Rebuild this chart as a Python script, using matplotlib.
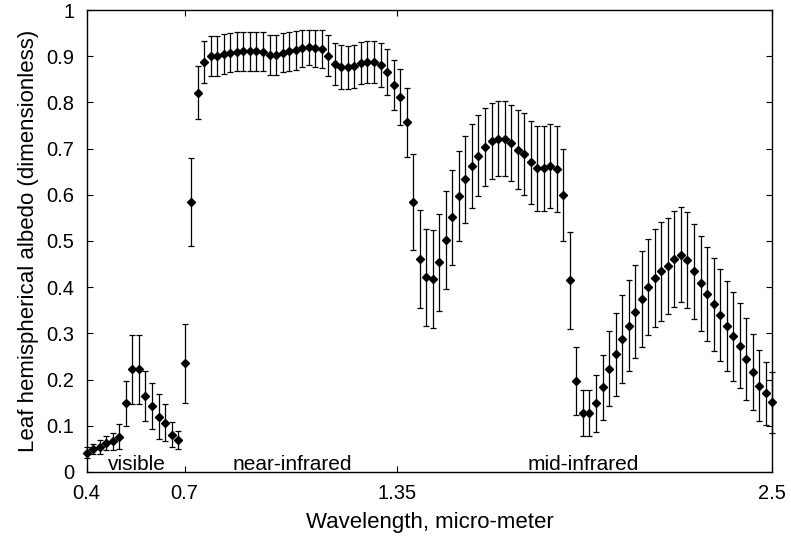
import matplotlib
matplotlib.use("Agg")
import matplotlib.pyplot as plt
import numpy as np

### Leaf hemispherical albedo vs wavelength, with error bars

wavelength = [0.40, 0.42, 0.44, 0.46, 0.48, 0.50, 0.52, 0.54, 0.56, 0.58,
              0.60, 0.62, 0.64, 0.66, 0.68, 0.70, 0.72, 0.74, 0.76, 0.78,
              0.80, 0.82, 0.84, 0.86, 0.88, 0.90, 0.92, 0.94, 0.96, 0.98,
              1.00, 1.02, 1.04, 1.06, 1.08, 1.10, 1.12, 1.14, 1.16, 1.18,
              1.20, 1.22, 1.24, 1.26, 1.28, 1.30, 1.32, 1.34, 1.36, 1.38,
              1.40, 1.42, 1.44, 1.46, 1.48, 1.50, 1.52, 1.54, 1.56, 1.58,
              1.60, 1.62, 1.64, 1.66, 1.68, 1.70, 1.72, 1.74, 1.76, 1.78,
              1.80, 1.82, 1.84, 1.86, 1.88, 1.90, 1.92, 1.94, 1.96, 1.98,
              2.00, 2.02, 2.04, 2.06, 2.08, 2.10, 2.12, 2.14, 2.16, 2.18,
              2.20, 2.22, 2.24, 2.26, 2.28, 2.30, 2.32, 2.34, 2.36, 2.38,
              2.40, 2.42, 2.44, 2.46, 2.48, 2.50]

albedo = [0.042, 0.049, 0.055, 0.062, 0.066, 0.076, 0.149, 0.222, 0.222, 0.164,
          0.143, 0.120, 0.107, 0.081, 0.069, 0.235, 0.585, 0.821, 0.888, 0.900,
          0.900, 0.904, 0.908, 0.910, 0.911, 0.911, 0.911, 0.910, 0.903, 0.903,
          0.908, 0.911, 0.913, 0.917, 0.919, 0.917, 0.916, 0.901, 0.883, 0.877,
          0.876, 0.878, 0.885, 0.887, 0.887, 0.881, 0.865, 0.837, 0.812, 0.757,
          0.585, 0.461, 0.421, 0.418, 0.454, 0.502, 0.551, 0.597, 0.634, 0.662,
          0.685, 0.703, 0.716, 0.721, 0.721, 0.712, 0.698, 0.688, 0.670, 0.658,
          0.658, 0.662, 0.655, 0.600, 0.415, 0.197, 0.127, 0.127, 0.149, 0.183,
          0.224, 0.255, 0.288, 0.317, 0.347, 0.374, 0.400, 0.419, 0.434, 0.446,
          0.461, 0.470, 0.459, 0.434, 0.408, 0.385, 0.363, 0.340, 0.316, 0.294,
          0.273, 0.245, 0.216, 0.187, 0.170, 0.151]

err = [0.012, 0.011, 0.015, 0.015, 0.018, 0.027, 0.049, 0.075, 0.075, 0.054,
       0.049, 0.049, 0.041, 0.027, 0.020, 0.086, 0.095, 0.058, 0.045, 0.043,
       0.043, 0.043, 0.042, 0.042, 0.042, 0.042, 0.042, 0.042, 0.043, 0.043,
       0.042, 0.042, 0.042, 0.040, 0.038, 0.040, 0.041, 0.044, 0.046, 0.047,
       0.047, 0.047, 0.046, 0.046, 0.046, 0.047, 0.050, 0.054, 0.061, 0.075,
       0.104, 0.107, 0.106, 0.106, 0.105, 0.106, 0.103, 0.098, 0.094, 0.091,
       0.087, 0.084, 0.082, 0.081, 0.081, 0.083, 0.086, 0.088, 0.090, 0.092,
       0.092, 0.091, 0.093, 0.099, 0.105, 0.073, 0.050, 0.050, 0.062, 0.071,
       0.081, 0.090, 0.096, 0.099, 0.101, 0.104, 0.104, 0.106, 0.107, 0.103,
       0.103, 0.103, 0.103, 0.103, 0.102, 0.102, 0.101, 0.100, 0.097, 0.096,
       0.092, 0.089, 0.082, 0.076, 0.069, 0.066]

xticks = [0.4, 0.7, 1.35, 2.5]
xticklabels = ["0.4", "0.7", "1.35", "2.5"]
yticks = [0, 0.1, 0.2, 0.3, 0.4, 0.5, 0.6, 0.7, 0.8, 0.9, 1]
yticklabels = ["0", "0.1", "0.2", "0.3", "0.4", "0.5", "0.6", "0.7", "0.8", "0.9", "1"]

regions = ["visible", "near-infrared", "mid-infrared"]
region_x = [0.553, 1.03, 1.92]

plt.rcParams['font.family'] = ['Liberation Sans', 'DejaVu Sans']

fig = plt.figure(figsize=(7.91, 5.38), dpi=100)
ax = fig.add_axes([0.1096, 0.1227, 0.8668, 0.8587])

ax.errorbar(wavelength, albedo, yerr=err, fmt="D", color="black",
            markersize=4, ecolor="black", elinewidth=0.9, capsize=2.5,
            capthick=0.9, clip_on=False)

for name, xpos in zip(regions, region_x):
    ax.text(xpos, 0.004, name, ha="center", va="baseline", fontsize=15)

ax.set_xlim(0.4, 2.5)
ax.set_ylim(0, 1)
ax.set_xticks(xticks)
ax.set_xticklabels(xticklabels)
ax.set_yticks(yticks)
ax.set_yticklabels(yticklabels)
ax.tick_params(direction="in", top=True, right=True, length=4, width=0.8,
               labelsize=14.5, pad=9)
for s in ax.spines.values():
    s.set_linewidth(1.0)

ax.set_xlabel("Wavelength, micro-meter", fontsize=16, labelpad=6)
ax.set_ylabel("Leaf hemispherical albedo (dimensionless)", fontsize=16, labelpad=5)

fig.savefig("out.png", dpi=100)
plt.close(fig)
